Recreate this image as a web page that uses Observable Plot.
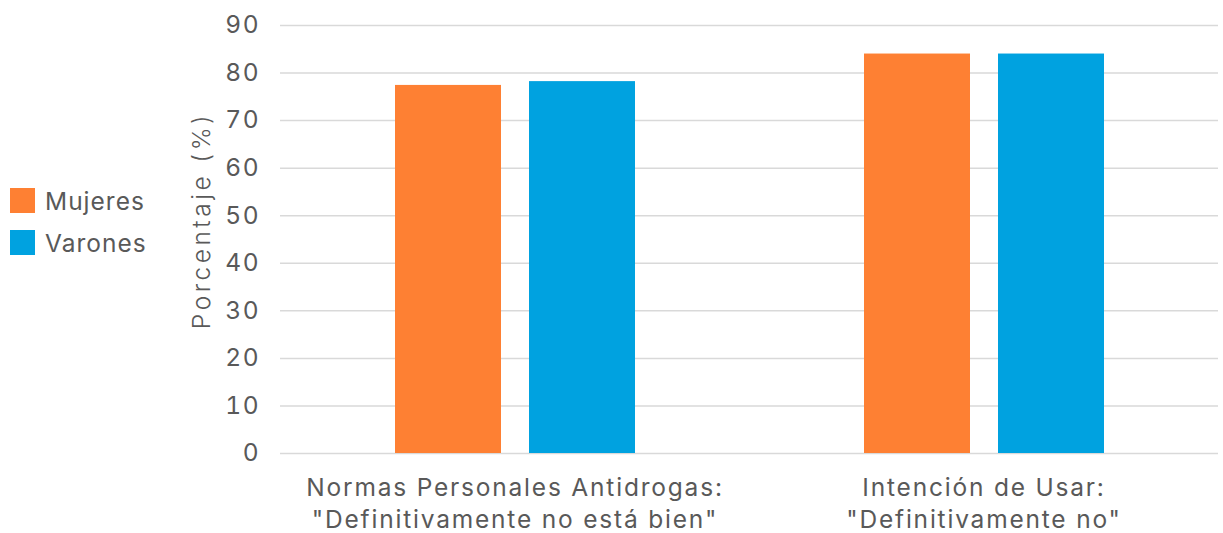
<!DOCTYPE html>
<html>
<head>
<meta charset="utf-8">
<script src="https://cdn.jsdelivr.net/npm/d3@7"></script>
<script src="https://cdn.jsdelivr.net/npm/@observablehq/plot@0.6"></script>
<style>
  html, body { margin: 0; padding: 0; background: #fff; }
  #wrap { position: relative; width: 1223px; height: 533px; font-family: Inter, "Noto Sans", sans-serif; }
  #legend { position: absolute; left: 10px; top: 188px; color: #595959; font-size: 24.5px; letter-spacing: 1px; }
  .item { display: flex; align-items: center; height: 25px; margin-bottom: 17px; }
  .sw { width: 25px; height: 25px; margin-right: 10px; }
  .ylabel text { letter-spacing: 3.5px; font-weight: 300; }
</style>
</head>
<body>
<div id="wrap"><div id="legend"></div></div>
<script>
const categories = [
  "Normas Personales Antidrogas:\n\"Definitivamente no está bien\"",
  "Intención de Usar:\n\"Definitivamente no\""
];
const series = ["Mujeres", "Varones"];
const mujeres = [77.4, 84.0];
const varones = [78.2, 84.0];
const yTicks = [0, 10, 20, 30, 40, 50, 60, 70, 80, 90];
const colors = ["#FE8033", "#00A2E0"];
const yLabel = "Porcentaje (%)";

const data = categories.flatMap((c, i) => [
  {cat: c, sex: series[0], value: mujeres[i]},
  {cat: c, sex: series[1], value: varones[i]}
]);

const chart = Plot.plot({
  width: 1223,
  height: 533,
  marginLeft: 280,
  marginRight: 5,
  marginTop: 25,
  marginBottom: 80,
  style: {fontFamily: "Inter, 'Noto Sans', sans-serif", color: "#595959", letterSpacing: "1.8px", background: "#fff"},
  fx: {domain: categories, padding: 0, label: null},
  x: {domain: series, paddingInner: 0.209, paddingOuter: 0.854, axis: null},
  y: {domain: [0, 90], label: null},
  color: {domain: series, range: colors},
  marks: [
    Plot.gridY(yTicks, {stroke: "#d9d9d9", strokeOpacity: 1, strokeWidth: 1.5}),
    Plot.axisY(yTicks, {tickSize: 0, tickPadding: 20, fontSize: 24.5, label: null, fill: "#595959"}),
    Plot.axisFx({anchor: "bottom", tickSize: 0, tickPadding: 20, fontSize: 24.5, lineHeight: 1.3, label: null, fill: "#595959"}),
    Plot.barY(data, {fx: "cat", x: "sex", y: "value", fill: "sex"}),
    Plot.text([{cat: categories[0]}], {fx: "cat", text: () => yLabel, frameAnchor: "left", textAnchor: "middle", rotate: -90, dx: -78, dy: -19, fontSize: 24.5, fill: "#595959", className: "ylabel"})
  ]
});
document.getElementById("wrap").prepend(chart);

const legend = document.getElementById("legend");
series.forEach((s, i) => {
  const it = document.createElement("div");
  it.className = "item";
  it.innerHTML = `<div class="sw" style="background:${colors[i]}"></div><span>${s}</span>`;
  legend.appendChild(it);
});
</script>
</body>
</html>
